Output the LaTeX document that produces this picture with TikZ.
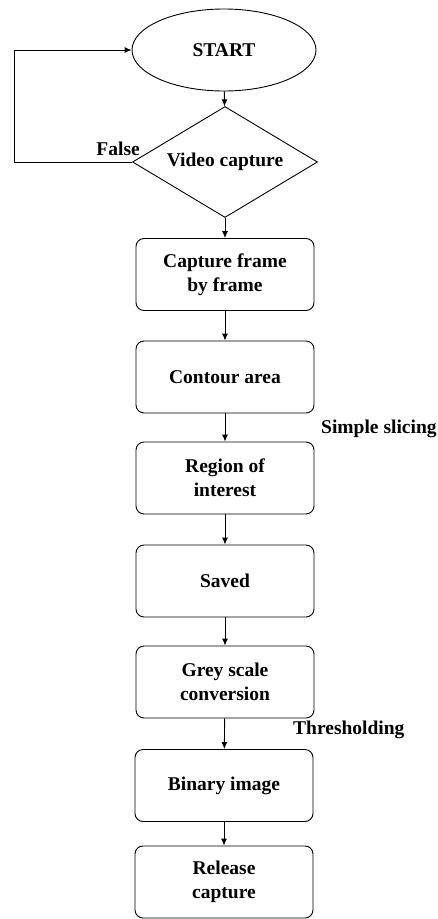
\documentclass[tikz,border=0pt]{standalone}
\usepackage{fontspec}
\setmainfont{Liberation Serif}
\usetikzlibrary{shapes.geometric,arrows.meta}
\begin{document}
\begin{tikzpicture}[x=1pt,y=-1pt,
  every node/.style={font=\fontsize{19.5}{24}\selectfont\bfseries},
  proc/.style={draw, rounded corners=8pt, minimum width=178pt, minimum height=72pt, align=center, line width=0.9pt, inner sep=2pt},
  arr/.style={-{Latex[length=7pt,width=6pt]}, line width=0.9pt},
  lbl/.style={inner sep=0pt}]
\useasboundingbox (0,0) rectangle (437,919);
\node[draw, ellipse, line width=0.9pt, minimum width=184pt, minimum height=82pt] (start) at (224,50) {START};
\node[draw, diamond, line width=0.9pt, inner sep=0pt, aspect=1.67, minimum width=185pt, minimum height=111pt] (dia) at (225,162) {Video capture};
\node[proc] (b1) at (225,274.5) {Capture frame\\by frame};
\node[proc] (b2) at (225,377) {Contour area};
\node[proc] (b3) at (225,478) {Region of\\interest};
\node[proc] (b4) at (225,581) {Saved};
\node[proc] (b5) at (225,682) {Grey scale\\conversion};
\node[proc] (b6) at (224,785.5) {Binary image};
\node[proc] (b7) at (224,882) {Release\\capture};
\node[lbl, anchor=base east] (false) at (140,155) {False};
\node[lbl, anchor=west] (slice) at (321,429) {Simple slicing};
\node[lbl, anchor=west] (thr) at (293,730) {Thresholding};
\coordinate (lp) at (14,162);
\draw[arr] (start) -- (dia);
\draw[arr] (dia.west) -- (lp) |- (start.west);
\draw[arr] (dia) -- (b1);
\draw[arr] (b1) -- (b2);
\draw[arr] (b2) -- (b3);
\draw[arr] (b3) -- (b4);
\draw[arr] (b4) -- (b5);
\draw[arr] (b5) -- (b6);
\draw[arr] (b6) -- (b7);
\end{tikzpicture}
\end{document}
